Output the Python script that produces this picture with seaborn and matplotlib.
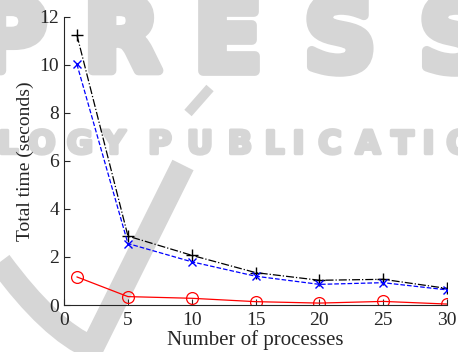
import matplotlib
matplotlib.use("Agg")
import matplotlib.pyplot as plt
import matplotlib.patheffects as pe
import seaborn as sns
import pandas as pd
from matplotlib.path import Path
from matplotlib.patches import PathPatch

processes = [1, 5, 10, 15, 20, 25, 30]
series_black = [11.25, 2.87, 2.07, 1.35, 1.03, 1.07, 0.69]
series_blue = [10.03, 2.56, 1.80, 1.20, 0.86, 0.93, 0.63]
series_red = [1.17, 0.35, 0.28, 0.14, 0.08, 0.15, 0.04]
x_ticks = [0, 5, 10, 15, 20, 25, 30]
y_ticks = [0, 2, 4, 6, 8, 10, 12]

sns.set_style("ticks")
plt.rcParams['font.family'] = ['Liberation Serif', 'DejaVu Serif']
plt.rcParams['xtick.direction'] = 'in'
plt.rcParams['ytick.direction'] = 'in'

W, H = 458.0, 352.0
fig = plt.figure(figsize=(4.58, 3.52), dpi=100)
wm = '#d6d6d6'

# background watermark (publisher logo)
for ch, cx in zip("PRESS", [10, 122, 228, 340, 455]):
    fig.text(cx / W, 1 - 43 / H, ch, fontsize=72, fontweight='bold', color=wm,
             family='DejaVu Sans', ha='center', va='center', zorder=-10,
             path_effects=[pe.withStroke(linewidth=7, foreground=wm)])
for ch, cx in zip("LOGYPUBLICATIO",
                  [8, 42, 80, 114, 160, 200, 240, 274, 298, 330, 368, 402, 428, 460]):
    fig.text(cx / W, 1 - 145 / H, ch, fontsize=23, fontweight='bold', color=wm,
             family='DejaVu Sans', ha='center', va='center', zorder=-10,
             path_effects=[pe.withStroke(linewidth=2.5, foreground=wm)])
v_path = Path([(0 / W, 1 - 262 / H), (50 / W, 1 - 330 / H), (92 / W, 1 - 348 / H),
               (183 / W, 1 - 165 / H)],
              [Path.MOVETO, Path.CURVE3, Path.CURVE3, Path.LINETO])
fig.patches.append(PathPatch(v_path, transform=fig.transFigure, facecolor='none',
                             edgecolor=wm, linewidth=17, zorder=-10))
acc_path = Path([(188 / W, 1 - 113 / H), (210 / W, 1 - 88 / H)])
fig.patches.append(PathPatch(acc_path, transform=fig.transFigure, facecolor='none',
                             edgecolor=wm, linewidth=7, zorder=-10))

ax = fig.add_axes([0.14, 0.1335, 0.836, 0.8185])
ax.set_facecolor('none')

df = pd.DataFrame({"x": processes, "black": series_black,
                   "blue": series_blue, "red": series_red})

sns.lineplot(data=df, x="x", y="black", ax=ax, color="black", linestyle="-.",
             marker="+", markersize=9, markeredgecolor="black",
             markeredgewidth=1.0, linewidth=0.9)
sns.lineplot(data=df, x="x", y="blue", ax=ax, color="blue", linestyle="--",
             marker="x", markersize=6, markeredgecolor="blue",
             markeredgewidth=1.0, linewidth=0.9)
sns.lineplot(data=df, x="x", y="red", ax=ax, color="red", linestyle="-",
             marker="o", markersize=8.5, markerfacecolor='none',
             markeredgecolor='red', markeredgewidth=0.9, linewidth=0.9)

ax.set_xlim(0, 30)
ax.set_ylim(0, 12)
ax.set_xticks(x_ticks)
ax.set_yticks(y_ticks)
ax.tick_params(labelsize=14, length=4, width=0.8)
ax.tick_params(axis='x', pad=5)
ax.set_xlabel("Number of processes", fontsize=15, labelpad=1)
ax.set_ylabel("Total time (seconds)", fontsize=14, labelpad=4)
sns.despine(ax=ax)

fig.savefig("out.png", dpi=100)
